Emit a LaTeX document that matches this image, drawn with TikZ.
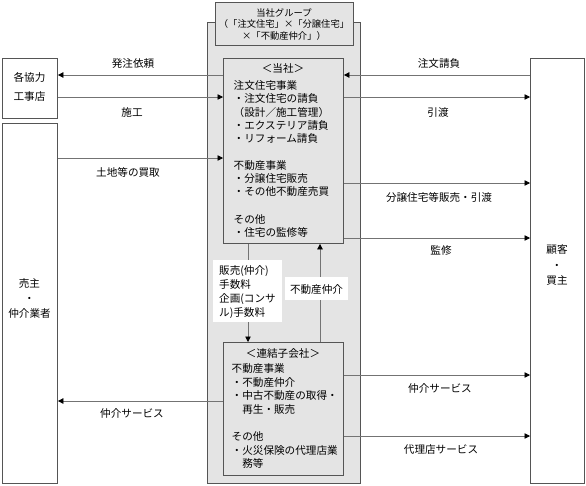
\documentclass[tikz,border=0pt]{standalone}
\usepackage{fontspec}
\setmainfont{Noto Sans CJK JP}
\usetikzlibrary{arrows.meta}
\definecolor{grp}{RGB}{228,228,228}
\definecolor{edge}{RGB}{85,85,85}
\definecolor{arrline}{RGB}{115,115,115}
\tikzset{
  box/.style={draw=edge, line width=0.9pt, inner sep=0pt, anchor=north west},
  txt/.style={font=\fontsize{10.6}{13.3}\selectfont, inner sep=0pt, align=left, anchor=north west},
  ctxt/.style={font=\fontsize{10.6}{13.3}\selectfont, inner sep=0pt, align=center},
  lbl/.style={font=\fontsize{10.6}{13.3}\selectfont, inner sep=0pt},
  arr/.style={draw=arrline, line width=0.8pt, -{Triangle[length=5.5pt,width=5.5pt,color=black]}},
}
\begin{document}
\begin{tikzpicture}[x=1pt,y=-1pt]
\useasboundingbox (0,0) rectangle (586,485);
% group background
\node[box, fill=grp, minimum width=153pt, minimum height=461pt] (group) at (207,22) {};
\node[box, fill=grp, minimum width=138pt, minimum height=43pt] (title) at (215,2) {};
\node[ctxt, font=\fontsize{9.3}{11.5}\selectfont] (titletext) at (284,24.5) {当社グループ\\（「注文住宅」×「分譲住宅」\\×「不動産仲介」）};
% company boxes
\node[box, fill=grp, minimum width=120pt, minimum height=185pt] (tousha) at (223,58) {};
\node[box, fill=grp, minimum width=120pt, minimum height=133pt] (renketsu) at (223,342) {};
% outside boxes
\node[box, fill=white, minimum width=55pt, minimum height=60pt] (kyoryoku) at (2,58) {};
\node[box, fill=white, minimum width=55pt, minimum height=360pt] (urinushi) at (2,123) {};
\node[box, fill=white, minimum width=54pt, minimum height=425pt] (kokyaku) at (530,58) {};
\node[ctxt] (kyoryokutext) at (29.5,87) {各協力\\[5pt]工事店};
\node[ctxt, font=\fontsize{10.6}{15}\selectfont] (urinushitext) at (29.5,298) {売主\\・\\仲介業者};
\node[ctxt, font=\fontsize{10.6}{15.5}\selectfont] (kokyakutext) at (557,265) {顧客\\・\\買主};
% text in company boxes
\node[lbl] (toushahead) at (283,68) {＜当社＞};
\node[txt] (toushabody) at (233.5,80.3) {注文住宅事業\\・注文住宅の請負\\（設計／施工管理）\\・エクステリア請負\\・リフォーム請負\\[13.3pt]不動産事業\\・分譲住宅販売\\・その他不動産売買\\[14.5pt]その他\\・住宅の監修等};
\node[lbl] (renketsuhead) at (283,353) {＜連結子会社＞};
\node[txt, font=\fontsize{10.6}{13.6}\selectfont] (renketsubody) at (231.5,363.3) {不動産事業\\・不動産仲介\\・中古不動産の取得・\\\hspace*{1em}再生・販売\\[13.6pt]その他\\・火災保険の代理店業\\\hspace*{1em}務等};
% left arrows
\draw[arr] (tousha.west |- 0,75) -- (kyoryoku.east |- 0,75);
\draw[arr] (kyoryoku.east |- 0,97) -- (tousha.west |- 0,97);
\draw[arr] (urinushi.east |- 0,158) -- (tousha.west |- 0,158);
\draw[arr] (renketsu.west |- 0,401) -- (urinushi.east |- 0,401);
\node[lbl] (l1) at (133,63) {発注依頼};
\node[lbl] (l2) at (132,112) {施工};
\node[lbl] (l3) at (128,172) {土地等の買取};
\node[lbl] (l4) at (132,413) {仲介サービス};
% right arrows
\draw[arr] (kokyaku.west |- 0,75) -- (tousha.east |- 0,75);
\draw[arr] (tousha.east |- 0,97) -- (kokyaku.west |- 0,97);
\draw[arr] (tousha.east |- 0,183) -- (kokyaku.west |- 0,183);
\draw[arr] (tousha.east |- 0,238) -- (kokyaku.west |- 0,238);
\draw[arr] (renketsu.east |- 0,375) -- (kokyaku.west |- 0,375);
\draw[arr] (renketsu.east |- 0,436) -- (kokyaku.west |- 0,436);
\node[lbl] (r1) at (439,63) {注文請負};
\node[lbl] (r2) at (438,112) {引渡};
\node[lbl] (r3) at (439,197) {分譲住宅等販売・引渡};
\node[lbl] (r4) at (441,250) {監修};
\node[lbl] (r5) at (440,388) {仲介サービス};
\node[lbl] (r6) at (441,449) {代理店サービス};
% vertical arrows
\draw[arr] (tousha.south -| 248,0) -- (renketsu.north -| 248,0);
\draw[arr] (renketsu.north -| 320,0) -- (tousha.south -| 320,0);
\node[fill=white, minimum width=69pt, minimum height=62pt, inner sep=0pt, anchor=north west] (feebox) at (213,260) {};
\node[txt, font=\fontsize{10.6}{14}\selectfont] (feetext) at (219,265) {販売(仲介)\\手数料\\企画(コンサ\\ル)手数料};
\node[fill=white, minimum width=63pt, minimum height=23pt, inner sep=0pt, anchor=north west] (brokbox) at (285,277) {};
\node[lbl] (broktext) at (316.5,289) {不動産仲介};
\end{tikzpicture}
\end{document}
